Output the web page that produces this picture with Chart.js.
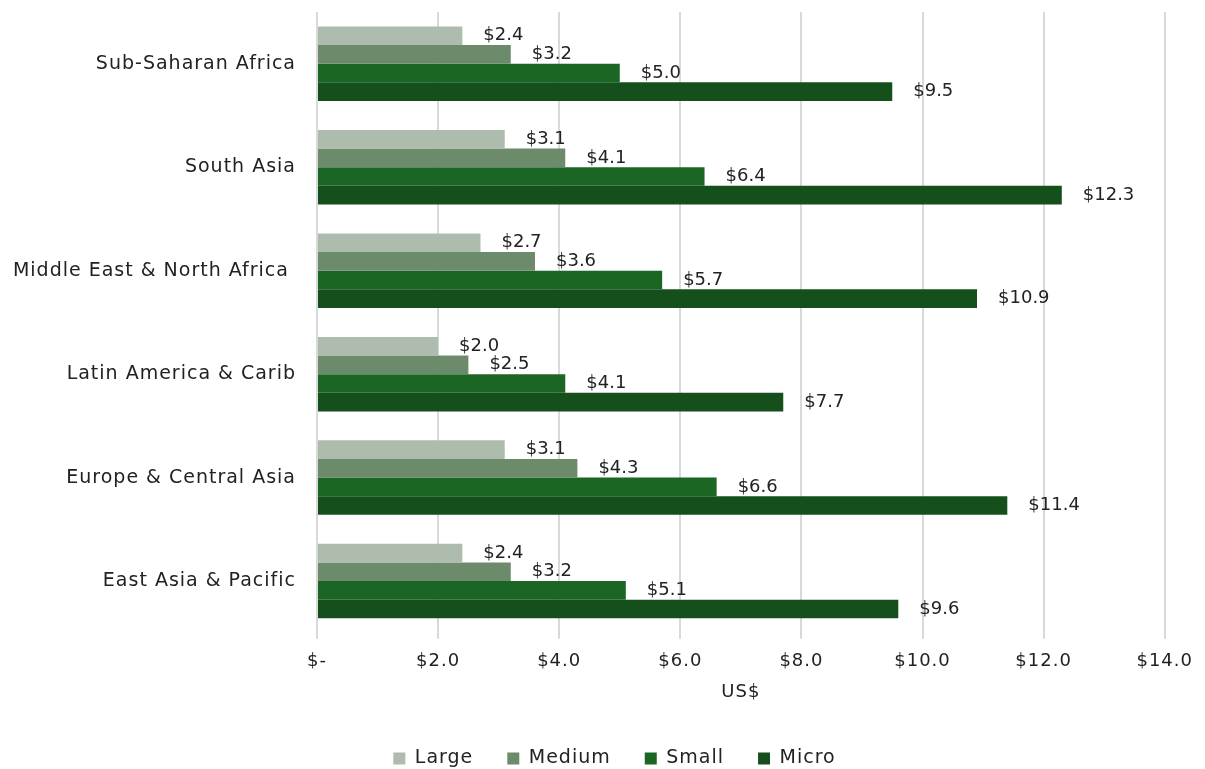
<!DOCTYPE html>
<html>
<head>
<meta charset="utf-8">
<script src="https://cdn.jsdelivr.net/npm/chart.js@4/dist/chart.umd.min.js"></script>
<style>
  html, body { margin: 0; padding: 0; background: #fff; }
  #wrap { width: 1205px; height: 769px; }
</style>
</head>
<body>
<div id="wrap"><canvas id="costChart"></canvas></div>
<script>
// ---------------- DATA ----------------
const regions = [
  "Sub-Saharan Africa",
  "South Asia",
  "Middle East & North Africa ",
  "Latin America & Carib",
  "Europe & Central Asia",
  "East Asia & Pacific"
];
const large  = [2.4, 3.1, 2.7, 2.0, 3.1, 2.4];
const medium = [3.2, 4.1, 3.6, 2.5, 4.3, 3.2];
const small  = [5.0, 6.4, 5.7, 4.1, 6.6, 5.1];
const micro  = [9.5, 12.3, 10.9, 7.7, 11.4, 9.6];
const xTicks = [0, 2, 4, 6, 8, 10, 12, 14];

const FONT = "'DejaVu Sans', sans-serif";
const fmt = v => v === 0 ? "$-" : "$" + v.toFixed(1);

// wider lettering, closer to the original typeface
const spacing = {
  id: "spacing",
  beforeLayout(chart) { chart.ctx.letterSpacing = "1px"; },
  beforeDraw(chart) { chart.ctx.letterSpacing = "1px"; }
};

// legend sits a little right of the canvas centre in the original
const legendShift = {
  id: "legendShift",
  afterLayout(chart) {
    chart.legend.left += 29;
    chart.legend.right += 29;
  }
};

// ---------------- VALUE LABELS ----------------
const valueLabels = {
  id: "valueLabels",
  afterDatasetsDraw(chart) {
    const ctx = chart.ctx;
    ctx.save();
    ctx.letterSpacing = "0px";
    ctx.font = "18px " + FONT;
    ctx.fillStyle = "#222";
    ctx.textAlign = "left";
    ctx.textBaseline = "middle";
    chart.data.datasets.forEach((ds, i) => {
      chart.getDatasetMeta(i).data.forEach((bar, j) => {
        ctx.fillText(fmt(ds.data[j]), bar.x + 21, bar.y);
      });
    });
    ctx.restore();
  }
};

// ---------------- CHART ----------------
const ctx = document.getElementById("costChart").getContext("2d");
new Chart(ctx, {
  type: "bar",
  data: {
    labels: regions,
    datasets: [
      { label: "Large",  data: large,  backgroundColor: "#adbcad" },
      { label: "Medium", data: medium, backgroundColor: "#6b8b6b" },
      { label: "Small",  data: small,  backgroundColor: "#1b6525" },
      { label: "Micro",  data: micro,  backgroundColor: "#154f1c" }
    ]
  },
  options: {
    indexAxis: "y",
    responsive: true,
    maintainAspectRatio: false,
    animation: false,
    categoryPercentage: 0.72,
    barPercentage: 1.0,
    layout: { padding: { top: 12, right: 34, bottom: -9, left: 0 } },
    plugins: {
      legend: {
        position: "bottom",
        labels: {
          font: { family: FONT, size: 19 },
          color: "#222",
          boxWidth: 12,
          boxHeight: 12,
          padding: 34
        }
      },
      tooltip: { enabled: false }
    },
    scales: {
      x: {
        min: 0,
        max: 14,
        afterBuildTicks: axis => { axis.ticks = xTicks.map(v => ({ value: v })); },
        ticks: {
          callback: v => fmt(v),
          font: { family: FONT, size: 18 },
          color: "#222",
          padding: 12
        },
        grid: { color: "#d9d9d9", lineWidth: 2, drawTicks: true, tickLength: 6 },
        border: { display: false },
        title: {
          display: true,
          text: "US$",
          font: { family: FONT, size: 18 },
          color: "#222",
          padding: { top: -3, bottom: 12 }
        }
      },
      y: {
        afterFit: axis => {
          axis.width = 317;
          axis.paddingTop = 0;
          axis.paddingBottom = 0;
        },
        ticks: {
          font: { family: FONT, size: 19 },
          color: "#222",
          padding: 21
        },
        grid: { display: false, drawTicks: false },
        border: { display: false }
      }
    }
  },
  plugins: [spacing, legendShift, valueLabels]
});
</script>
</body>
</html>
